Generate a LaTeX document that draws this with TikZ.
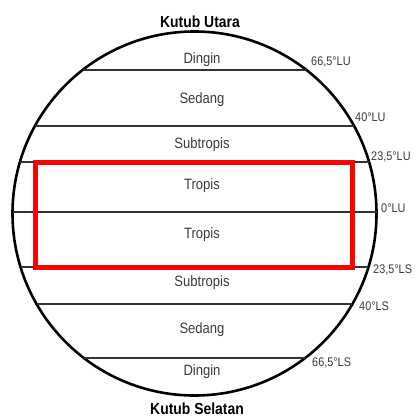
\documentclass[tikz,border=0pt]{standalone}
\usepackage{fontspec}
\setmainfont{Liberation Sans}[FakeStretch=0.87]
\usepackage{xcolor}
\usetikzlibrary{positioning,calc}

\definecolor{zonegray}{HTML}{3A3A3A}

\begin{document}
\begin{tikzpicture}[
  x=1pt, y=-1pt,
  earth/.style={draw=black, line width=2.6pt},
  lat/.style={draw=black!80, line width=1.4pt},
  zone/.style={font=\fontsize{15}{17}\selectfont, text=zonegray, inner sep=0pt},
  deg/.style={font=\fontsize{12.5}{14}\selectfont, text=zonegray, anchor=west, inner sep=0pt},
  pole/.style={font=\bfseries\fontsize{16}{18}\selectfont, inner sep=0pt},
  tropbox/.style={draw=red, line width=5pt}
]
\useasboundingbox (0,0) rectangle (417,419);

% globe
\coordinate (c) at (194.5,213.5);
\draw[earth] (c) circle[radius=182];

% latitude lines: y / label / label position
\foreach \yv/\lbl/\lx/\ly [count=\i] in {70/66{,}5°LU/311/62, 126/40°LU/355/117,
    162/23{,}5°LU/371/157, 212/0°LU/381/208, 267/23{,}5°LS/373/270,
    304/40°LS/359/306, 358/66{,}5°LS/312/363}{
  \pgfmathsetmacro{\dx}{182*sqrt(1-((\yv-213.5)/182)^2)}
  \coordinate (w\i) at (194.5-\dx,\yv);
  \coordinate (e\i) at (194.5+\dx,\yv);
  \draw[lat] (w\i) -- (e\i);
  \node[deg] (d\i) at (\lx,\ly) {\lbl};
}

% zones
\node[zone] (z1) at (202,60) {Dingin};
\node[zone] (z2) at (202,100) {Sedang};
\node[zone] (z3) at (202,145) {Subtropis};
\node[zone] (z4) at (202,186) {Tropis};
\node[zone] (z5) at (202,235) {Tropis};
\node[zone] (z6) at (202,283) {Subtropis};
\node[zone] (z7) at (202,330) {Sedang};
\node[zone] (z8) at (202,372) {Dingin};

% tropics highlight
\draw[tropbox] (35,163) rectangle (352,267);

% poles
\node[pole] (north) at (200,22) {Kutub Utara};
\node[pole] (south) at (197,409) {Kutub Selatan};
\end{tikzpicture}
\end{document}
